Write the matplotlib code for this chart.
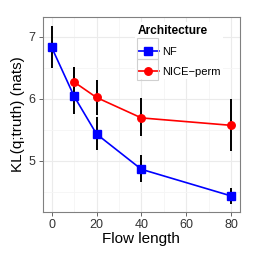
import numpy as np
import matplotlib
matplotlib.use("Agg")
import matplotlib.pyplot as plt
from matplotlib.ticker import MultipleLocator
from matplotlib.patches import Rectangle

plt.rcParams['font.family'] = ['Liberation Sans', 'DejaVu Sans']

# data
nf_x = [0, 10, 20, 40, 80]
nf_y = [6.83, 6.04, 5.43, 4.86, 4.43]
nf_lo = [6.49, 5.76, 5.17, 4.65, 4.30]
nf_hi = [7.17, 6.51, 5.71, 5.09, 4.56]

nice_x = [10, 20, 40, 80]
nice_y = [6.27, 6.02, 5.69, 5.57]
nice_lo = [6.02, 5.74, 5.39, 5.15]
nice_hi = [6.52, 6.31, 6.01, 5.99]

x_ticks = [0, 20, 40, 60, 80]
y_ticks = [5, 6, 7]

W = 258
fig = plt.figure(figsize=(2.58, 2.58), dpi=100)
ax = fig.add_axes([42.7 / W, 1 - 212 / W, (240 - 42.7) / W, (212 - 17) / W])

ax.set_axisbelow(True)
ax.xaxis.set_minor_locator(MultipleLocator(10))
ax.yaxis.set_minor_locator(MultipleLocator(0.5))
ax.grid(True, which='major', color='#ebebeb', lw=0.8)
ax.grid(True, which='minor', color='#f5f5f5', lw=0.6)

for xs, lo, hi in [(nf_x, nf_lo, nf_hi), (nice_x, nice_lo, nice_hi)]:
    ax.vlines(xs, lo, hi, color='black', lw=1.4, zorder=2)

ax.plot(nice_x, nice_y, color='#ff0000', lw=1.2, marker='o', ms=5.4, zorder=3, label='NICE\u2212perm')
ax.plot(nf_x, nf_y, color='#0000ff', lw=1.2, marker='s', ms=5.8, zorder=4, label='NF')

ax.set_xlim(-4, 84)
ax.set_ylim(4.17, 7.32)
ax.set_xticks(x_ticks)
ax.set_yticks(y_ticks)
ax.tick_params(which='major', length=3, width=0.6, color='#4d4d4d', labelsize=9, labelcolor='#333333', pad=2)
ax.tick_params(which='minor', length=0)
for s in ax.spines.values():
    s.set_color('#808080')
    s.set_linewidth(0.8)

ax.set_xlabel('Flow length', fontsize=11, labelpad=1)
ax.set_ylabel('KL(q;truth) (nats)', fontsize=11, labelpad=3)

handles, labels = ax.get_legend_handles_labels()
leg = ax.legend(handles[::-1], labels[::-1], title='Architecture', loc='upper left',
                bbox_to_anchor=(0.468, 0.975), borderaxespad=0, fontsize=8,
                frameon=True, facecolor='white', edgecolor='none', framealpha=1, fancybox=False,
                handlelength=1.9, handletextpad=0.25, borderpad=0.25, labelspacing=0.9)
leg.get_title().set_fontweight('bold')
leg.get_title().set_fontsize(8.6)
leg._legend_box.align = 'left'

# grey key boxes as in ggplot legends
for top in [38.0, 59.0]:
    fig.add_artist(Rectangle((137.3 / W, 1 - (top + 21) / W), 21 / W, 21 / W,
                             transform=fig.transFigure, fill=False,
                             edgecolor='#d0d0d0', lw=0.8, zorder=10))

fig.savefig('out.png', dpi=100)
